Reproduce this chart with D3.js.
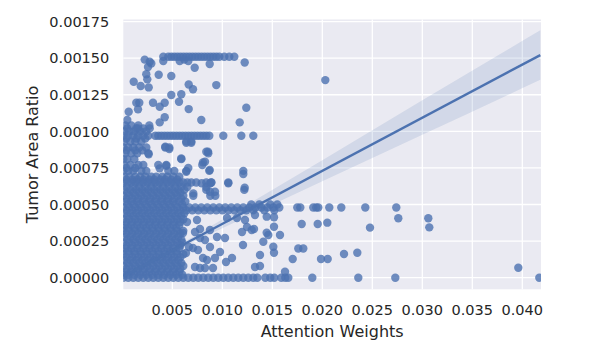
<!DOCTYPE html>
<html>
<head>
<meta charset="utf-8">
<script src="https://cdn.jsdelivr.net/npm/d3@7"></script>
<style>
  body { margin: 0; background: #ffffff; }
  svg { display: block; font-family: "DejaVu Sans", sans-serif; }
</style>
</head>
<body>
<svg></svg>
<script>
const width = 607;
const height = 357;
const margin = { top: 19.5, right: 66, bottom: 67.7, left: 123.3 };

// horizontal runs of points: tumor area ratio level -> attention weights at that level
const rowLevels = [
  0.00151, 0.00104, 0.00102, 0.00100, 0.00097, 0.00095, 0.00093, 0.00089,
  0.00087, 0.00085, 0.00081, 0.00077, 0.00075, 0.00073, 0.00069, 0.00067,
  0.00065, 0.00062, 0.00060, 0.00058, 0.00056, 0.00054, 0.00052, 0.00050,
  0.00048, 0.00046, 0.00044, 0.00042, 0.00040, 0.00038, 0.00036, 0.00034,
  0.00032, 0.00030, 0.00028, 0.00026, 0.00024, 0.00022, 0.00020, 0.00018,
  0.00016, 0.00014, 0.00012, 0.00010, 0.00008, 0.00006, 0.00004, 0.00002, 0
];
const rowWeights = [
  [0.0041, 0.0046, 0.0049, 0.0052, 0.0055, 0.0058, 0.0061, 0.0064, 0.0067, 0.0070, 0.0073, 0.0076, 0.0079, 0.0082, 0.0085, 0.0088, 0.0091, 0.0094, 0.0097, 0.0102, 0.0107, 0.0112],
  [0.0003, 0.0009, 0.0016, 0.0027],
  [0.0005, 0.0014, 0.0021],
  [0.0002, 0.0007, 0.0012, 0.0018, 0.0024],
  [0.0001, 0.0006, 0.0011, 0.0016, 0.0021, 0.0026, 0.0033, 0.0036, 0.0039, 0.0042, 0.0045, 0.0048, 0.0051, 0.0054, 0.0057, 0.0060, 0.0063, 0.0066, 0.0069, 0.0072, 0.0075, 0.0078, 0.0081, 0.0084, 0.0087, 0.0101, 0.0119, 0.0131],
  [0.0004, 0.0014, 0.0023],
  [0.0002, 0.0008, 0.0013, 0.0019, 0.0064, 0.0069],
  [0.0001, 0.0006, 0.0011, 0.0017, 0.0024, 0.0043, 0.0047],
  [0.0004, 0.0013, 0.0020],
  [0.0003, 0.0009, 0.0015, 0.0026, 0.0086],
  [0.0001, 0.0005, 0.0012, 0.0059],
  [0.0002, 0.0008, 0.0016, 0.0021, 0.0036, 0.0044, 0.0080],
  [0.0004, 0.0013],
  [0.0001, 0.0006, 0.0011, 0.0019, 0.0024, 0.0046, 0.0052, 0.0064, 0.0087, 0.0121],
  [0.0002, 0.0007, 0.0013, 0.0018, 0.0023, 0.0029, 0.0034, 0.0040, 0.0045, 0.0051, 0.0057],
  [0.0004, 0.0010, 0.0015, 0.0021, 0.0027, 0.0032, 0.0038, 0.0043, 0.0049, 0.0055],
  [0.0001, 0.0005, 0.0009, 0.0013, 0.0017, 0.0021, 0.0025, 0.0029, 0.0033, 0.0037, 0.0041, 0.0045, 0.0049, 0.0053, 0.0057, 0.0061, 0.0065, 0.0069, 0.0074, 0.0084, 0.0089, 0.0106],
  [0.0004, 0.0011, 0.0017, 0.0023, 0.0029, 0.0035, 0.0041, 0.0047, 0.0053, 0.0059, 0.0065],
  [0.0002, 0.0008, 0.0014, 0.0020, 0.0026, 0.0032, 0.0038, 0.0044, 0.0050, 0.0056, 0.0062, 0.0084, 0.0122],
  [0.0005, 0.0011, 0.0017, 0.0023, 0.0029, 0.0035, 0.0041, 0.0047, 0.0053, 0.0058],
  [0.0001, 0.0007, 0.0013, 0.0019, 0.0025, 0.0031, 0.0037, 0.0043, 0.0049, 0.0055, 0.0061, 0.0071, 0.0088, 0.0093],
  [0.0004, 0.0010, 0.0016, 0.0022, 0.0028, 0.0034, 0.0040, 0.0046, 0.0052, 0.0059],
  [0.0003, 0.0009, 0.0015, 0.0021, 0.0027, 0.0033, 0.0039, 0.0045, 0.0051, 0.0057, 0.0063],
  [0.0005, 0.0011, 0.0017, 0.0023, 0.0029, 0.0035, 0.0041, 0.0047, 0.0053, 0.0060, 0.0129, 0.0137, 0.0148, 0.0155],
  [0.0001, 0.0007, 0.0013, 0.0019, 0.0025, 0.0031, 0.0037, 0.0043, 0.0049, 0.0055, 0.0061, 0.0067, 0.0073, 0.0079, 0.0085, 0.0091, 0.0097, 0.0103, 0.0109, 0.0115, 0.0121, 0.0127, 0.0133, 0.0139, 0.0145, 0.0151, 0.0157, 0.0175, 0.0178, 0.0191, 0.0194, 0.0196, 0.0207, 0.0219, 0.0243, 0.0274],
  [0.0004, 0.0010, 0.0016, 0.0022, 0.0028, 0.0034, 0.0040, 0.0046, 0.0052, 0.0058, 0.0064, 0.0070, 0.0076, 0.0082, 0.0088, 0.0094, 0.0100, 0.0106, 0.0112, 0.0118, 0.0124, 0.0131, 0.0142, 0.0152],
  [0.0002, 0.0008, 0.0014, 0.0020, 0.0026, 0.0032, 0.0038, 0.0044, 0.0050, 0.0056, 0.0062],
  [0.0005, 0.0011, 0.0017, 0.0023, 0.0029, 0.0035, 0.0041, 0.0047, 0.0053, 0.0059],
  [0.0001, 0.0007, 0.0013, 0.0019, 0.0025, 0.0031, 0.0037, 0.0043, 0.0049, 0.0055, 0.0061],
  [0.0004, 0.0010, 0.0016, 0.0022, 0.0028, 0.0034, 0.0040, 0.0046, 0.0052, 0.0058],
  [0.0003, 0.0009, 0.0015, 0.0021, 0.0027, 0.0033, 0.0039, 0.0045, 0.0051, 0.0057],
  [0.0001, 0.0006, 0.0012, 0.0018, 0.0024, 0.0030, 0.0036, 0.0042, 0.0048, 0.0054],
  [0.0001, 0.0007, 0.0013, 0.0019, 0.0025, 0.0031, 0.0037, 0.0043, 0.0049, 0.0055, 0.0061],
  [0.0004, 0.0010, 0.0016, 0.0022, 0.0028, 0.0034, 0.0040, 0.0046, 0.0052, 0.0058],
  [0.0002, 0.0008, 0.0014, 0.0020, 0.0026, 0.0032, 0.0038, 0.0044, 0.0050, 0.0056],
  [0.0005, 0.0011, 0.0017, 0.0023, 0.0029, 0.0035, 0.0041, 0.0047, 0.0053, 0.0059],
  [0.0001, 0.0007, 0.0013, 0.0019, 0.0025, 0.0031, 0.0037, 0.0043, 0.0049, 0.0055, 0.0060],
  [0.0004, 0.0010, 0.0016, 0.0022, 0.0028, 0.0034, 0.0040, 0.0046, 0.0052, 0.0058],
  [0.0003, 0.0009, 0.0015, 0.0021, 0.0027, 0.0033, 0.0039, 0.0045, 0.0051, 0.0057],
  [0.0001, 0.0006, 0.0012, 0.0018, 0.0024, 0.0030, 0.0036, 0.0042, 0.0048, 0.0054],
  [0.0001, 0.0007, 0.0013, 0.0019, 0.0025, 0.0031, 0.0037, 0.0043, 0.0049, 0.0055, 0.0061],
  [0.0004, 0.0010, 0.0016, 0.0022, 0.0028, 0.0034, 0.0040, 0.0046, 0.0052, 0.0058],
  [0.0002, 0.0008, 0.0014, 0.0020, 0.0026, 0.0032, 0.0038, 0.0044, 0.0050, 0.0056],
  [0.0005, 0.0011, 0.0017, 0.0023, 0.0029, 0.0035, 0.0041, 0.0047, 0.0053, 0.0059],
  [0.0001, 0.0007, 0.0013, 0.0019, 0.0025, 0.0031, 0.0037, 0.0043, 0.0049, 0.0055, 0.0061],
  [0.0004, 0.0010, 0.0016, 0.0022, 0.0028, 0.0034, 0.0040, 0.0046, 0.0052, 0.0058],
  [0.0003, 0.0009, 0.0015, 0.0021, 0.0027, 0.0033, 0.0039, 0.0045, 0.0051, 0.0057],
  [0.0001, 0.0006, 0.0012, 0.0018, 0.0024, 0.0030, 0.0036, 0.0042, 0.0048, 0.0054, 0.0060],
  [0.0001, 0.0006, 0.0011, 0.0016, 0.0021, 0.0026, 0.0031, 0.0036, 0.0041, 0.0046, 0.0051, 0.0056, 0.0061, 0.0066, 0.0071, 0.0076, 0.0081, 0.0086, 0.0091, 0.0096, 0.0101, 0.0106, 0.0111, 0.0116, 0.0121, 0.0126, 0.0131, 0.0135, 0.0143, 0.0148, 0.0152, 0.0159, 0.0163, 0.0166, 0.0190, 0.0236, 0.0273, 0.0417]
];

// scattered single points (attention weight, tumor area ratio)
const looseWeights = [
  0.00224, 0.00274, 0.0029, 0.00257, 0.0041, 0.00574, 0.0062, 0.0066, 0.00724, 0.00874, 0.01224, 0.0024,
  0.00364, 0.0049, 0.0025, 0.00114, 0.00184, 0.00264, 0.00664, 0.00707, 0.0094, 0.0049, 0.0059, 0.00567,
  0.0014, 0.0017, 0.00307, 0.00424, 0.00374, 0.00157, 0.00064, 0.00664, 0.0124, 0.00424, 0.00374, 0.0005,
  0.0079, 0.01174, 0.00157, 0.00274, 0.0203,
  0.0059, 0.00807, 0.00374, 0.0044, 0.0066, 0.0064, 0.00874, 0.0121, 0.00827, 0.00264, 0.00857, 0.0047,
  0.0043, 0.0064, 0.0069, 0.0084, 0.00794, 0.00877, 0.00877, 0.00927, 0.0071, 0.0106, 0.01224, 0.0084, 0.0089,
  0.00647, 0.00747, 0.00777, 0.00727, 0.00877, 0.01047, 0.01147, 0.01227, 0.01247, 0.01197, 0.01317, 0.00777,
  0.00827, 0.00947, 0.01027, 0.00877, 0.00977, 0.01097, 0.00927, 0.00847, 0.00727, 0.00827, 0.00907, 0.01207,
  0.01327, 0.00757, 0.00667, 0.00707, 0.00607, 0.00637, 0.00807, 0.01037, 0.00777,
  0.01327, 0.01444, 0.01517, 0.01794, 0.01954, 0.0205, 0.02477, 0.01294, 0.01517, 0.01444, 0.0146, 0.0141,
  0.01577, 0.0151, 0.0176, 0.0181, 0.01517, 0.01377, 0.01704, 0.01987, 0.02054, 0.02217, 0.0235, 0.01377,
  0.01627, 0.0276, 0.0306, 0.0307, 0.0396
];
const looseRatios = [
  0.00149, 0.001475, 0.001464, 0.00144, 0.00148, 0.00148, 0.00149, 0.00148, 0.001434, 0.00146, 0.00147, 0.00139,
  0.001387, 0.001378, 0.001355, 0.001339, 0.00131, 0.0013, 0.00132, 0.001287, 0.001316, 0.001248, 0.001253, 0.001202,
  0.001195, 0.001195, 0.001195, 0.001195, 0.001168, 0.00115, 0.001134, 0.001152, 0.001161, 0.001096, 0.001061, 0.001077,
  0.001077, 0.001061, 0.00102, 0.00102, 0.00135,
  0.000815, 0.000788, 0.000747, 0.000765, 0.00075, 0.000724, 0.000736, 0.000708, 0.000792, 0.000843, 0.00086, 0.000879,
  0.000895, 0.000922, 0.000922, 0.00086, 0.000645, 0.000645, 0.000587, 0.000587, 0.000576, 0.000645, 0.000615, 0.00062, 0.00065,
  0.00038, 0.000394, 0.000333, 0.000312, 0.000326, 0.000408, 0.000408, 0.000394, 0.000346, 0.000312, 0.000333, 0.000271,
  0.000258, 0.000278, 0.000271, 0.00021, 0.000176, 0.000135, 0.000135, 0.000121, 0.000073, 0.000066, 0.000066, 0.000223,
  0.000073, 0.000189, 0.00021, 0.000203, 0.000305, 0.000169, 0.000135, 0.000107, 0.000066,
  0.000428, 0.000417, 0.000413, 0.000367, 0.000367, 0.000376, 0.000342, 0.000326, 0.000348, 0.000307, 0.000292, 0.000246,
  0.000292, 0.000212, 0.0002, 0.0002, 0.000171, 0.000155, 0.000128, 0.000128, 0.000128, 0.000162, 0.000171, 0.00008,
  0.000041, 0.000406, 0.000406, 0.000344, 0.000068
];

// regression fit and its confidence band
const fitWeights = [0.0001, 0.0418];
const fitRatios = [0.0000086, 0.001521];
const bandWeights = [0.0001, 0.004, 0.01, 0.02, 0.03, 0.0418];
const bandLow = [-0.000011, 0.000138, 0.000338, 0.000659, 0.000976, 0.001352];
const bandHigh = [0.0000286, 0.000162, 0.000398, 0.000803, 0.001212, 0.00169];

const xTicks = [0.005, 0.010, 0.015, 0.020, 0.025, 0.030, 0.035, 0.040];
const yTicks = [0, 0.00025, 0.0005, 0.00075, 0.001, 0.00125, 0.0015, 0.00175];

const color = "#4C72B0";

const svg = d3.select("svg")
  .attr("width", width)
  .attr("height", height);

const x = d3.scaleLinear()
  .domain([0.0001, 0.04187])
  .range([margin.left, width - margin.right]);

const y = d3.scaleLinear()
  .domain([-0.0000792, 0.001764])
  .range([height - margin.bottom, margin.top]);

const points = [];
rowLevels.forEach(function(level, i) {
  rowWeights[i].forEach(function(w) {
    points.push({ w: w, r: level });
  });
});
looseWeights.forEach(function(w, i) {
  points.push({ w: w, r: looseRatios[i] });
});

svg.append("defs").append("clipPath")
  .attr("id", "plot-clip")
  .append("rect")
  .attr("x", margin.left)
  .attr("y", margin.top)
  .attr("width", width - margin.left - margin.right)
  .attr("height", height - margin.top - margin.bottom);

// background
svg.append("rect")
  .attr("x", margin.left)
  .attr("y", margin.top)
  .attr("width", width - margin.left - margin.right)
  .attr("height", height - margin.top - margin.bottom)
  .attr("fill", "#EAEAF2");

// grid
svg.append("g")
  .selectAll("line")
  .data(xTicks)
  .join("line")
  .attr("x1", function(d) { return x(d); })
  .attr("x2", function(d) { return x(d); })
  .attr("y1", margin.top)
  .attr("y2", height - margin.bottom)
  .attr("stroke", "#ffffff")
  .attr("stroke-width", 1.3);

svg.append("g")
  .selectAll("line")
  .data(yTicks)
  .join("line")
  .attr("x1", margin.left)
  .attr("x2", width - margin.right)
  .attr("y1", function(d) { return y(d); })
  .attr("y2", function(d) { return y(d); })
  .attr("stroke", "#ffffff")
  .attr("stroke-width", 1.3);

const plot = svg.append("g").attr("clip-path", "url(#plot-clip)");

plot.selectAll("circle")
  .data(points)
  .join("circle")
  .attr("cx", function(d) { return x(d.w); })
  .attr("cy", function(d) { return y(d.r); })
  .attr("r", 4.2)
  .attr("fill", color)
  .attr("fill-opacity", 0.8);

const band = bandWeights.map(function(w, i) {
  return { w: w, lo: bandLow[i], hi: bandHigh[i] };
});

plot.append("path")
  .datum(band)
  .attr("d", d3.area()
    .x(function(d) { return x(d.w); })
    .y0(function(d) { return y(d.lo); })
    .y1(function(d) { return y(d.hi); })
    .curve(d3.curveMonotoneX))
  .attr("fill", color)
  .attr("fill-opacity", 0.15);

plot.append("path")
  .datum(fitWeights.map(function(w, i) { return { w: w, r: fitRatios[i] }; }))
  .attr("d", d3.line()
    .x(function(d) { return x(d.w); })
    .y(function(d) { return y(d.r); }))
  .attr("fill", "none")
  .attr("stroke", color)
  .attr("stroke-width", 2.4);

// tick labels
svg.append("g")
  .selectAll("text")
  .data(xTicks)
  .join("text")
  .attr("x", function(d) { return x(d); })
  .attr("y", height - margin.bottom + 26)
  .attr("text-anchor", "middle")
  .attr("font-size", 14.5)
  .attr("fill", "#262626")
  .text(d3.format(".3f"));

svg.append("g")
  .selectAll("text")
  .data(yTicks)
  .join("text")
  .attr("x", margin.left - 14)
  .attr("y", function(d) { return y(d); })
  .attr("dy", "0.36em")
  .attr("text-anchor", "end")
  .attr("font-size", 14.5)
  .attr("fill", "#262626")
  .text(d3.format(".5f"));

// axis labels
svg.append("text")
  .attr("x", (margin.left + width - margin.right) / 2)
  .attr("y", 336.7)
  .attr("text-anchor", "middle")
  .attr("font-size", 16)
  .attr("fill", "#262626")
  .text("Attention Weights");

svg.append("text")
  .attr("transform", "translate(37.5," + ((margin.top + height - margin.bottom) / 2) + ") rotate(-90)")
  .attr("text-anchor", "middle")
  .attr("font-size", 16)
  .attr("fill", "#262626")
  .text("Tumor Area Ratio");
</script>
</body>
</html>
